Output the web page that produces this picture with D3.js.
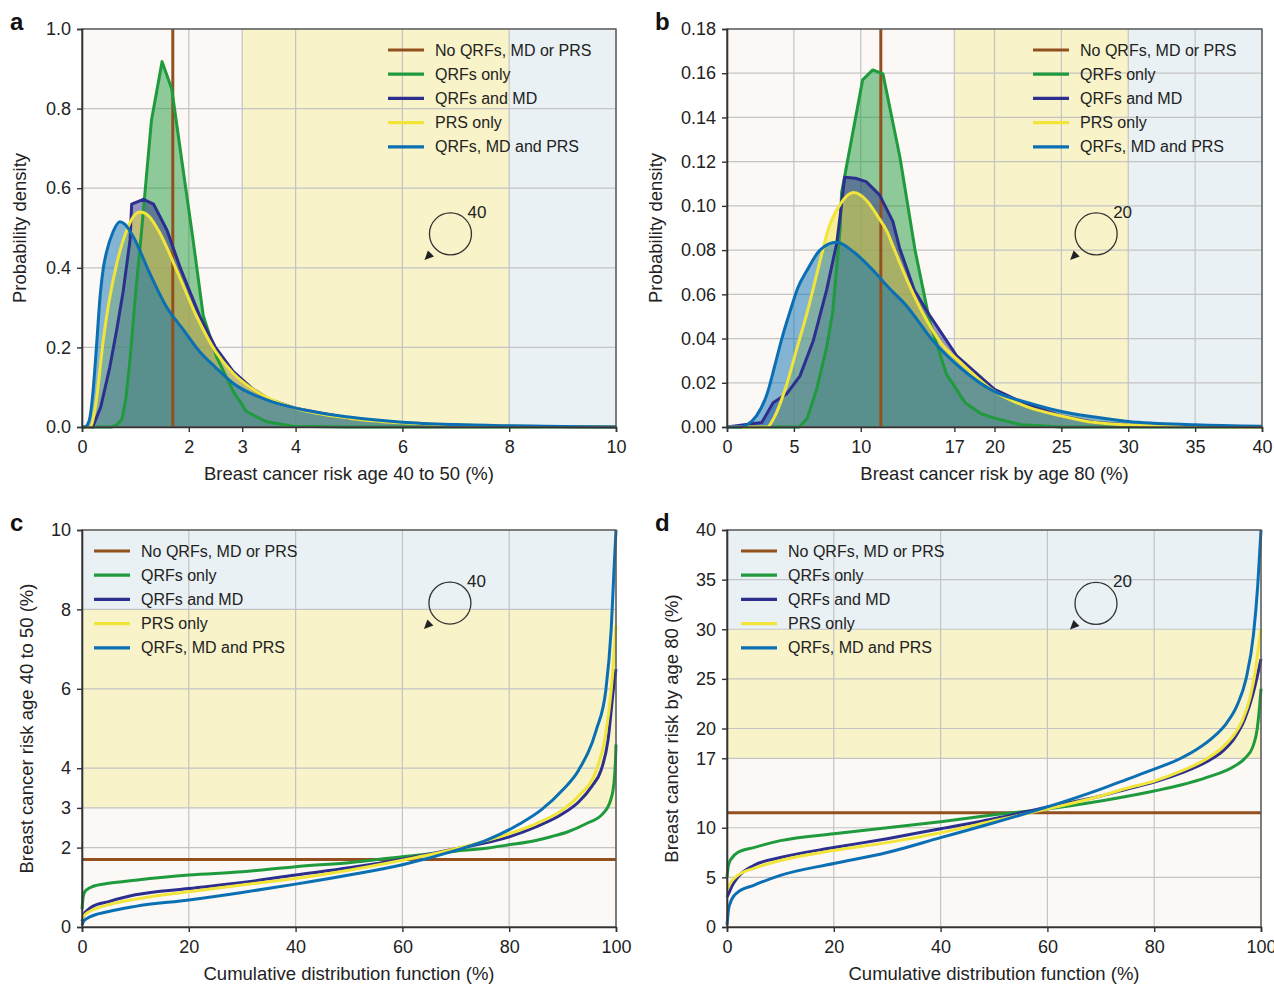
<!DOCTYPE html>
<html>
<head>
<meta charset="utf-8">
<script src="https://cdn.jsdelivr.net/npm/d3@7"></script>
<style>
  body { margin: 0; background: #fff; }
  svg { display: block; font-family: "Liberation Sans", Arial, Helvetica, sans-serif; }
</style>
</head>
<body>
<script>
// series, in legend order
const seriesNames = ["No QRFs, MD or PRS", "QRFs only", "QRFs and MD", "PRS only", "QRFs, MD and PRS"];
const seriesColors = ["#93501f", "#1f9a3d", "#2d2f8e", "#f1e43a", "#0b6fb4"];
const bandColors = ["#fbf8f5", "#f8f3c9", "#e9f1f4"];

// panel a: density of risk age 40 to 50 (%)
const aXTicks = [0, 2, 3, 4, 6, 8, 10];
const aYTicks = [0, 0.2, 0.4, 0.6, 0.8, 1.0];
const aBands = [[0, 3], [3, 8], [8, 10]];
const aNoInfo = 1.7;
const aQRFs = [[0,0],[0.55,0],[0.65,0.005],[0.75,0.02],[0.82,0.07],[0.9,0.17],[1.0,0.33],[1.1,0.47],[1.2,0.62],[1.3,0.77],[1.5,0.918],[1.68,0.85],[1.9,0.64],[2.07,0.48],[2.27,0.28],[2.52,0.176],[2.83,0.09],[3.08,0.039],[3.46,0.013],[3.95,0.002],[5,0],[10,0]];
const aQRFsMD = [[0,0],[0.2,0],[0.35,0.05],[0.52,0.15],[0.65,0.244],[0.77,0.34],[0.9,0.47],[0.93,0.56],[1.15,0.572],[1.34,0.56],[1.59,0.495],[1.84,0.40],[2.08,0.32],[2.2,0.28],[2.5,0.2],[2.83,0.14],[3.2,0.095],[3.5,0.07],[4,0.047],[5,0.022],[6,0.01],[7,0.004],[8,0.002],[10,0]];
const aPRS = [[0,0],[0.15,0],[0.25,0.05],[0.4,0.22],[0.5,0.31],[0.65,0.41],[0.84,0.495],[1.0,0.535],[1.09,0.54],[1.25,0.53],[1.46,0.487],[1.77,0.395],[2.15,0.277],[2.5,0.19],[2.83,0.135],[3.2,0.095],[3.5,0.072],[4,0.047],[5,0.022],[6,0.01],[7,0.005],[8,0.002],[10,0]];
const aAll = [[0,0],[0.05,0],[0.1,0.005],[0.15,0.025],[0.2,0.08],[0.27,0.2],[0.34,0.33],[0.4,0.4],[0.46,0.44],[0.58,0.49],[0.71,0.516],[0.8,0.51],[0.96,0.478],[1.27,0.386],[1.59,0.30],[1.9,0.244],[2.2,0.19],[2.5,0.15],[2.83,0.11],[3.46,0.068],[4.08,0.045],[5,0.025],[6,0.012],[7,0.006],[8,0.003],[9,0.001],[10,0]];

// panel b: density of risk by age 80 (%)
const bXTicks = [0, 5, 10, 17, 20, 25, 30, 35, 40];
const bYTicks = [0, 0.02, 0.04, 0.06, 0.08, 0.10, 0.12, 0.14, 0.16, 0.18];
const bBands = [[0, 17], [17, 30], [30, 40]];
const bNoInfo = 11.5;
const bQRFs = [[0,0],[5.4,0],[6,0.004],[6.7,0.017],[7.45,0.036],[7.9,0.052],[8.45,0.089],[8.57,0.106],[10.14,0.157],[10.9,0.1615],[11.66,0.1597],[12.93,0.122],[14.06,0.08],[15.18,0.047],[16.4,0.024],[17.8,0.011],[19,0.006],[20,0.004],[22,0.001],[25,0],[40,0]];
const bQRFsMD = [[0,0],[2.6,0.002],[3.45,0.011],[4.46,0.015],[5.45,0.023],[6.45,0.039],[7.45,0.062],[8.2,0.083],[8.45,0.095],[8.8,0.113],[9.6,0.1125],[10.4,0.111],[11.4,0.105],[12.4,0.093],[12.9,0.081],[14,0.062],[15.2,0.050],[17.2,0.032],[20,0.017],[22.5,0.01],[25,0.005],[27.5,0.002],[30,0.001],[35,0.0003],[40,0]];
const bPRS = [[0,0],[3,0],[3.5,0.004],[4.5,0.02],[5.2,0.035],[6,0.052],[7.2,0.081],[7.5,0.088],[8.5,0.101],[9.45,0.106],[10.5,0.102],[11.3,0.095],[12,0.088],[12.4,0.082],[13.5,0.066],[14.6,0.052],[16,0.038],[17.5,0.029],[20,0.016],[22.5,0.009],[25,0.005],[27.5,0.002],[30,0.001],[35,0.0002],[40,0]];
const bAll = [[0,0],[1.0,0],[1.5,0.001],[2.2,0.005],[3,0.015],[3.5,0.026],[4.1,0.04],[4.7,0.052],[5.3,0.063],[6,0.071],[6.95,0.080],[8.2,0.0835],[9.5,0.079],[10.9,0.071],[12.1,0.063],[13.4,0.055],[15.4,0.039],[17.6,0.026],[20,0.016],[22.5,0.011],[25,0.007],[27.5,0.0045],[30,0.0025],[35,0.001],[40,0.0003]];

// panel c: cumulative distribution, risk age 40 to 50 (%)
const cXTicks = [0, 20, 40, 60, 80, 100];
const cYTicks = [0, 2, 3, 4, 6, 8, 10];
const cBands = [[0, 3], [3, 8], [8, 10]];
const cNoInfo = 1.7;
const cQRFs = [[0,0.45],[0.2,0.75],[0.5,0.88],[1,0.95],[2,1.02],[5,1.1],[10,1.18],[20,1.31],[30,1.39],[40,1.52],[50,1.62],[60,1.77],[70,1.91],[76,1.99],[80,2.07],[85,2.18],[88,2.28],[91,2.4],[94.4,2.6],[97.5,2.85],[99,3.2],[99.6,3.6],[99.9,4.2],[100,4.6]];
const cQRFsMD = [[0,0.15],[0.5,0.35],[1,0.42],[2,0.52],[5,0.64],[10,0.81],[20,0.97],[30,1.12],[40,1.31],[50,1.49],[60,1.71],[70,1.97],[80,2.27],[85,2.52],[90,2.85],[93,3.15],[95.5,3.55],[97.2,3.95],[98.5,4.7],[99.5,5.97],[100,6.5]];
const cPRS = [[0,0.2],[0.5,0.3],[1,0.36],[2,0.43],[5,0.56],[10,0.7],[20,0.89],[30,1.06],[40,1.22],[50,1.43],[60,1.68],[70,1.97],[80,2.35],[85,2.6],[90,2.95],[93,3.3],[96.3,3.95],[98,4.8],[99.1,5.97],[99.7,7],[100,7.6]];
const cAll = [[0,0.05],[0.3,0.15],[1,0.22],[5,0.39],[10,0.52],[20,0.68],[30,0.87],[40,1.08],[50,1.31],[60,1.57],[70,1.93],[76,2.2],[82,2.6],[86,2.95],[90,3.45],[93,3.95],[96.3,4.96],[98.1,5.97],[99.1,7.5],[99.7,9.2],[100,10]];

// panel d: cumulative distribution, risk by age 80 (%)
const dXTicks = [0, 20, 40, 60, 80, 100];
const dYTicks = [0, 5, 10, 17, 20, 25, 30, 35, 40];
const dBands = [[0, 17], [17, 30], [30, 40]];
const dNoInfo = 11.5;
const dQRFs = [[0,5.0],[0.2,6.0],[0.5,6.6],[1,7.0],[2,7.5],[5,8.0],[10,8.7],[20,9.4],[30,10.0],[40,10.6],[50,11.3],[60,11.9],[70,12.7],[80,13.7],[85,14.3],[90,15.1],[95,16.2],[97,17.0],[98.5,18.2],[99.3,20],[99.7,22],[100,24]];
const dQRFsMD = [[0,3.0],[0.5,3.6],[1,4.2],[2,5.0],[5,6.2],[10,7.0],[20,8.0],[30,8.9],[40,9.9],[50,10.9],[60,12.1],[70,13.2],[75,13.9],[80,14.6],[85,15.5],[90,16.7],[93,17.8],[95,19.0],[97,21.0],[98.5,23.5],[99.4,25.5],[100,27]];
const dPRS = [[0,3.8],[0.5,4.3],[1,4.7],[2,5.2],[5,5.9],[10,6.7],[20,7.7],[30,8.5],[40,9.5],[50,10.7],[60,11.9],[70,13.2],[75,14.0],[80,14.7],[85,15.7],[90,17.0],[93,18.2],[95,19.4],[96.5,20.8],[98,23.2],[99,26],[99.6,28.5],[100,30]];
const dAll = [[0,0.2],[0.3,1.8],[0.6,2.4],[1,2.9],[2,3.5],[5,4.2],[10,5.2],[20,6.4],[30,7.5],[40,9.0],[50,10.5],[60,12.1],[70,13.9],[75,14.9],[80,15.9],[85,17.0],[88,17.9],[91,19.1],[93.5,20.5],[95.5,22.3],[97.2,25],[98.6,29.5],[99.4,34.5],[100,40]];

const width = 1274;
const height = 985;

const svg = d3.select('body')
  .append('svg')
  .attr('width', width)
  .attr('height', height);

// green and navy densities read as polylines, the others smooth
const densityCurves = [d3.curveLinear, d3.curveLinear, d3.curveMonotoneX, d3.curveMonotoneX];

function drawPanel(p) {
  const g = svg.append('g').attr('transform', `translate(${p.left},${p.top})`);
  const x = d3.scaleLinear().domain(p.xDomain).range([0, p.width]);
  const y = d3.scaleLinear().domain(p.yDomain).range([p.height, 0]);

  // shaded risk bands
  p.bands.forEach((b, i) => {
    const r = g.append('rect').attr('fill', bandColors[i]);
    if (p.bandAxis === 'x') {
      r.attr('x', x(b[0])).attr('y', 0).attr('width', x(b[1]) - x(b[0])).attr('height', p.height);
    } else {
      r.attr('x', 0).attr('y', y(b[1])).attr('width', p.width).attr('height', y(b[0]) - y(b[1]));
    }
  });

  // grid
  g.selectAll('.vg').data(p.xTicks).enter().append('line')
    .attr('x1', d => x(d)).attr('x2', d => x(d)).attr('y1', 0).attr('y2', p.height)
    .attr('stroke', '#c4c4c4').attr('stroke-width', 1.2);
  g.selectAll('.hg').data(p.yTicks).enter().append('line')
    .attr('y1', d => y(d)).attr('y2', d => y(d)).attr('x1', 0).attr('x2', p.width)
    .attr('stroke', '#c4c4c4').attr('stroke-width', 1.2);

  const curves = p.series;
  const curveFor = i => (p.fill ? densityCurves[i] : d3.curveMonotoneX);

  if (p.fill) {
    curves.forEach((s, i) => {
      const area = d3.area().x(d => x(d[0])).y0(y(0)).y1(d => y(d[1])).curve(curveFor(i));
      g.append('path').datum(s).attr('d', area)
        .attr('fill', seriesColors[i + 1]).attr('fill-opacity', 0.5);
    });
  }

  // no-information reference
  if (p.bandAxis === 'x') {
    g.append('line').attr('x1', x(p.noInfo)).attr('x2', x(p.noInfo)).attr('y1', 0).attr('y2', p.height)
      .attr('stroke', seriesColors[0]).attr('stroke-width', 3);
  } else {
    g.append('line').attr('y1', y(p.noInfo)).attr('y2', y(p.noInfo)).attr('x1', 0).attr('x2', p.width)
      .attr('stroke', seriesColors[0]).attr('stroke-width', 3);
  }

  curves.forEach((s, i) => {
    const line = d3.line().x(d => x(d[0])).y(d => y(d[1])).curve(curveFor(i));
    g.append('path').datum(s).attr('d', line)
      .attr('fill', 'none').attr('stroke', seriesColors[i + 1])
      .attr('stroke-width', 3).attr('stroke-linejoin', 'round');
  });

  // frame
  g.append('rect').attr('width', p.width).attr('height', p.height)
    .attr('fill', 'none').attr('stroke', '#555').attr('stroke-width', 1.4);

  const yAxis = g.append('g')
    .call(d3.axisLeft(y).tickValues(p.yTicks).tickSize(5).tickPadding(6).tickFormat(p.yFmt));
  const xAxis = g.append('g').attr('transform', `translate(0,${p.height})`)
    .call(d3.axisBottom(x).tickValues(p.xTicks).tickSize(5).tickPadding(8).tickFormat(p.xFmt));
  [xAxis, yAxis].forEach(a => {
    a.select('.domain').attr('stroke', '#333').attr('stroke-width', 1.6);
    a.selectAll('.tick line').attr('stroke', '#333').attr('stroke-width', 1.4);
    a.selectAll('.tick text').attr('fill', '#222').style('font-size', '18px').style('font-family', '"Liberation Sans", Arial, sans-serif');
  });

  // titles
  svg.append('text')
    .attr('x', p.left + p.width / 2).attr('y', p.top + p.height + 53)
    .attr('text-anchor', 'middle').attr('fill', '#222').style('font-size', '18.5px')
    .text(p.xTitle);
  svg.append('text')
    .attr('transform', `translate(${p.yTitleX},${p.top + p.height / 2}) rotate(-90)`)
    .attr('text-anchor', 'middle').attr('fill', '#222').style('font-size', '18.5px')
    .text(p.yTitle);
  svg.append('text')
    .attr('x', p.left - 72).attr('y', p.top + 1)
    .attr('fill', '#111').style('font-size', '24px').style('font-weight', 'bold')
    .text(p.letter);

  // legend
  seriesNames.forEach((name, i) => {
    const ly = p.legendY + i * 24.2;
    g.append('line').attr('x1', p.legendX).attr('x2', p.legendX + 36).attr('y1', ly).attr('y2', ly)
      .attr('stroke', seriesColors[i]).attr('stroke-width', 3.2);
    g.append('text').attr('x', p.legendX + 47).attr('y', ly + 5.5)
      .attr('fill', '#222').style('font-size', '16px').text(name);
  });

  // rotation marker with age label
  const cx = x(p.note.x), cy = y(p.note.y), r = 21;
  g.append('circle').attr('cx', cx).attr('cy', cy).attr('r', r)
    .attr('fill', 'none').attr('stroke', '#333').attr('stroke-width', 1.3);
  g.append('path')
    .attr('d', `M${cx - 26},${cy + 26} L${cx - 22.5},${cy + 16.5} L${cx - 16.5},${cy + 22.5} Z`)
    .attr('fill', '#222');
  g.append('text').attr('x', cx + 17).attr('y', cy - 16)
    .attr('fill', '#222').style('font-size', '17px').text(p.note.label);
}

drawPanel({
  letter: 'a', left: 82, top: 29, width: 534, height: 398,
  xDomain: [0, 10], yDomain: [0, 1], xTicks: aXTicks, yTicks: aYTicks,
  xFmt: d3.format('d'), yFmt: d3.format('.1f'),
  bandAxis: 'x', bands: aBands, noInfo: aNoInfo, fill: true,
  series: [aQRFs, aQRFsMD, aPRS, aAll],
  xTitle: 'Breast cancer risk age 40 to 50 (%)', yTitle: 'Probability density', yTitleX: 26,
  legendX: 306, legendY: 21, note: { x: 6.9, y: 0.485, label: '40' }
});

drawPanel({
  letter: 'b', left: 727, top: 29, width: 535, height: 398,
  xDomain: [0, 40], yDomain: [0, 0.18], xTicks: bXTicks, yTicks: bYTicks,
  xFmt: d3.format('d'), yFmt: d3.format('.2f'),
  bandAxis: 'x', bands: bBands, noInfo: bNoInfo, fill: true,
  series: [bQRFs, bQRFsMD, bPRS, bAll],
  xTitle: 'Breast cancer risk by age 80 (%)', yTitle: 'Probability density', yTitleX: 662,
  legendX: 306, legendY: 21, note: { x: 27.6, y: 0.0873, label: '20' }
});

drawPanel({
  letter: 'c', left: 82, top: 530, width: 534, height: 397,
  xDomain: [0, 100], yDomain: [0, 10], xTicks: cXTicks, yTicks: cYTicks,
  xFmt: d3.format('d'), yFmt: d3.format('d'),
  bandAxis: 'y', bands: cBands, noInfo: cNoInfo, fill: false,
  series: [cQRFs, cQRFsMD, cPRS, cAll],
  xTitle: 'Cumulative distribution function (%)', yTitle: 'Breast cancer risk age 40 to 50 (%)', yTitleX: 33,
  legendX: 12, legendY: 21, note: { x: 68.9, y: 8.16, label: '40' }
});

drawPanel({
  letter: 'd', left: 727, top: 530, width: 534, height: 397,
  xDomain: [0, 100], yDomain: [0, 40], xTicks: dXTicks, yTicks: dYTicks,
  xFmt: d3.format('d'), yFmt: d3.format('d'),
  bandAxis: 'y', bands: dBands, noInfo: dNoInfo, fill: false,
  series: [dQRFs, dQRFsMD, dPRS, dAll],
  xTitle: 'Cumulative distribution function (%)', yTitle: 'Breast cancer risk by age 80 (%)', yTitleX: 678,
  legendX: 14, legendY: 21, note: { x: 69.1, y: 32.6, label: '20' }
});
</script>
</body>
</html>
